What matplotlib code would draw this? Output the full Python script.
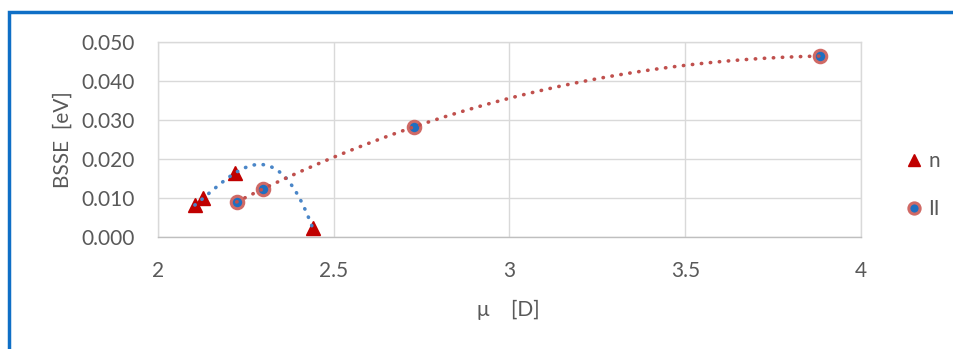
import numpy as np
import matplotlib
matplotlib.use('Agg')
from matplotlib import pyplot as plt
from matplotlib.patches import Rectangle
from matplotlib.ticker import FormatStrFormatter

# series "n" (triangles)
mu_n = [2.105, 2.128, 2.219, 2.440]
bsse_n = [0.0082, 0.0099, 0.0164, 0.0023]

# series "II" (circles)
mu_ii = [2.224, 2.298, 2.727, 3.884]
bsse_ii = [0.0090, 0.0123, 0.0282, 0.0464]

xticks = [2, 2.5, 3, 3.5, 4]
yticks = [0.0, 0.01, 0.02, 0.03, 0.04, 0.05]

plt.rcParams['font.family'] = ['Lato', 'DejaVu Sans']
grey = '#595959'
fs = 15

fig = plt.figure(figsize=(9.54, 3.49), dpi=100)
ax = fig.add_axes([158/954, 1-237/349, (861-158)/954, (237-42)/349])

# outer blue frame
fig.add_artist(Rectangle((9/954, -0.2), 2, 1.2 - 12/349, transform=fig.transFigure,
                         fill=False, edgecolor='#0F6FC6', lw=2.5))

ax.plot(mu_n, bsse_n, linestyle='none', marker='^', markersize=10,
        color='#C00000', zorder=3, label='n')
ax.plot(mu_ii, bsse_ii, linestyle='none', marker='o', markersize=9,
        markerfacecolor='#1F6FC1', markeredgecolor='#D06A66', markeredgewidth=2.2,
        zorder=3, label='II')

# polynomial trendlines
p_n = np.polyfit(mu_n, bsse_n, 3)
xs = np.linspace(min(mu_n), max(mu_n), 200)
ax.plot(xs, np.polyval(p_n, xs), color='#4A86C8', lw=2.6,
        linestyle=(0, (0.1, 2.4)), dash_capstyle='round', zorder=4)

p_ii = np.polyfit(mu_ii, bsse_ii, 3)
xs = np.linspace(min(mu_ii), max(mu_ii), 400)
ax.plot(xs, np.polyval(p_ii, xs), color='#C0504D', lw=2.6,
        linestyle=(0, (0.1, 2.4)), dash_capstyle='round', zorder=4)

ax.set_xlim(2, 4)
ax.set_ylim(0, 0.05)
ax.set_xticks(xticks)
ax.set_yticks(yticks)
ax.set_xticklabels(['2', '2.5', '3', '3.5', '4'])
ax.yaxis.set_major_formatter(FormatStrFormatter('%.3f'))
ax.grid(True, color='#D9D9D9', lw=1)
ax.set_axisbelow(True)
for s in ax.spines.values():
    s.set_color('#D9D9D9')
    s.set_linewidth(1)
ax.spines['bottom'].set_color('#BFBFBF')
ax.tick_params(length=0, labelsize=fs, labelcolor=grey)
ax.tick_params(axis='x', pad=17)
ax.tick_params(axis='y', pad=17)

ax.set_xlabel('\u03bc    [D]', fontsize=fs, color=grey)
ax.set_ylabel('BSSE  [eV]', fontsize=fs, color=grey)
ax.xaxis.set_label_coords(0.498, -0.32)
ax.yaxis.set_label_coords(-0.122, 0.5)

ax.legend(loc='center left', bbox_to_anchor=(889/954, 1-185/349),
          bbox_transform=fig.transFigure, frameon=False, fontsize=fs,
          labelcolor=grey, handlelength=0.6, handletextpad=0.4,
          labelspacing=1.35, markerscale=0.9)

fig.savefig('out.png', dpi=100)
